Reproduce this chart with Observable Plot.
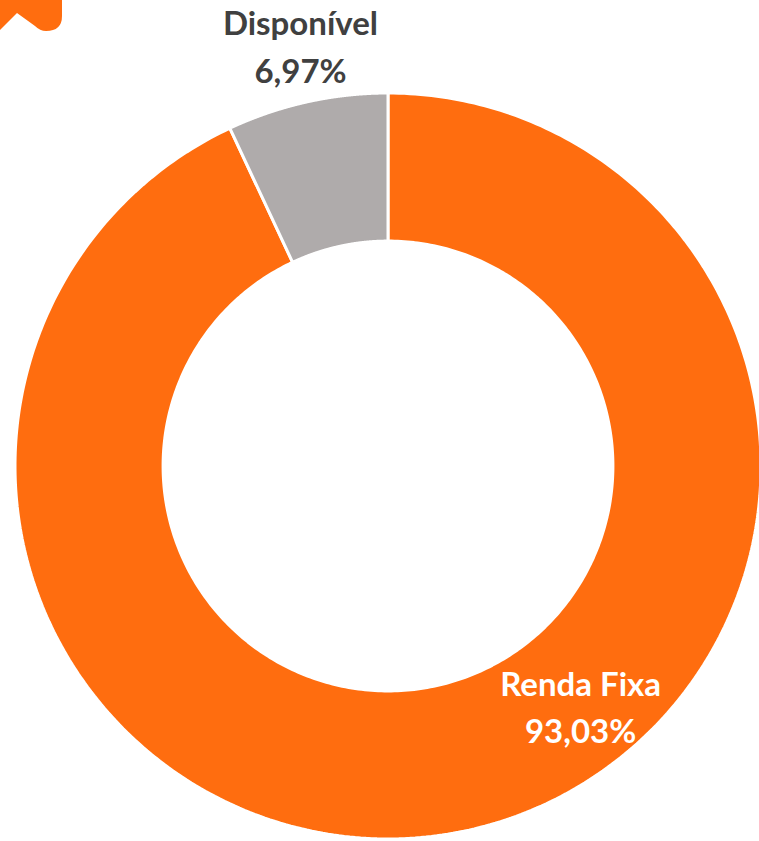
<!DOCTYPE html>
<html>
<head>
<meta charset="utf-8">
<script src="https://cdn.jsdelivr.net/npm/d3@7"></script>
<script src="https://cdn.jsdelivr.net/npm/@observablehq/plot@0.6"></script>
<style>
  html, body { margin: 0; padding: 0; background: #fff; }
  #wrap { position: relative; width: 759px; height: 841px; overflow: hidden; }
  #deco { position: absolute; left: 0; top: 0; }
</style>
</head>
<body>
<div id="wrap">
  <svg id="deco" width="70" height="40" viewBox="0 0 70 40">
    <path d="M0,0 L62,0 L62,16 Q62,31 46,31 Q40,31 35,26 L17,13 L0,30 Z" fill="#FF6D0F"/>
  </svg>
</div>
<script>
const categories = ["Renda Fixa", "Disponível"];
const values = [93.03, 6.97];
const colors = ["#FF6D0F", "#AFABAB"];
const valueLabels = ["93,03%", "6,97%"];

const innerRatio = 0.603;

// angles from data via d3.pie (clockwise from top, Renda Fixa first)
const pie = d3.pie().sort(null).value(d => d.value);
const slices = pie(categories.map((c, i) => ({category: c, value: values[i]})));

const ringPoints = [];
for (const s of slices) {
  const n = 400;
  for (let k = 0; k <= n; k++) {
    const t = s.startAngle + (s.endAngle - s.startAngle) * k / n;
    ringPoints.push({
      category: s.data.category,
      x1: innerRatio * Math.sin(t), y1: innerRatio * Math.cos(t),
      x2: Math.sin(t), y2: Math.cos(t)
    });
  }
}

const labelRows = [
  {text: categories[1], x: -0.236, y: 1.158, fill: "#404040"},
  {text: valueLabels[1], x: -0.236, y: 1.029, fill: "#404040"},
  {text: categories[0], x: 0.515, y: -0.614, fill: "#ffffff"},
  {text: valueLabels[0], x: 0.515, y: -0.740, fill: "#ffffff"}
];

const chart = Plot.plot({
  width: 759,
  height: 841,
  margin: 0,
  x: {domain: [-1, 1], range: [15, 761], axis: null},
  y: {domain: [-1, 1], range: [839, 93], axis: null},
  color: {domain: categories, range: colors},
  style: {fontFamily: "Lato, 'Open Sans', sans-serif", background: "transparent"},
  marks: [
    Plot.area(ringPoints, {
      x1: "x1", y1: "y1", x2: "x2", y2: "y2",
      z: "category", fill: "category",
      stroke: "#ffffff", strokeWidth: 3, strokeLinejoin: "miter"
    }),
    Plot.text(labelRows, {
      x: "x", y: "y", text: "text", fill: "fill",
      fontSize: 33, fontWeight: "bold", textAnchor: "middle", lineAnchor: "bottom"
    })
  ]
});
document.getElementById("wrap").prepend(chart);
</script>
</body>
</html>
